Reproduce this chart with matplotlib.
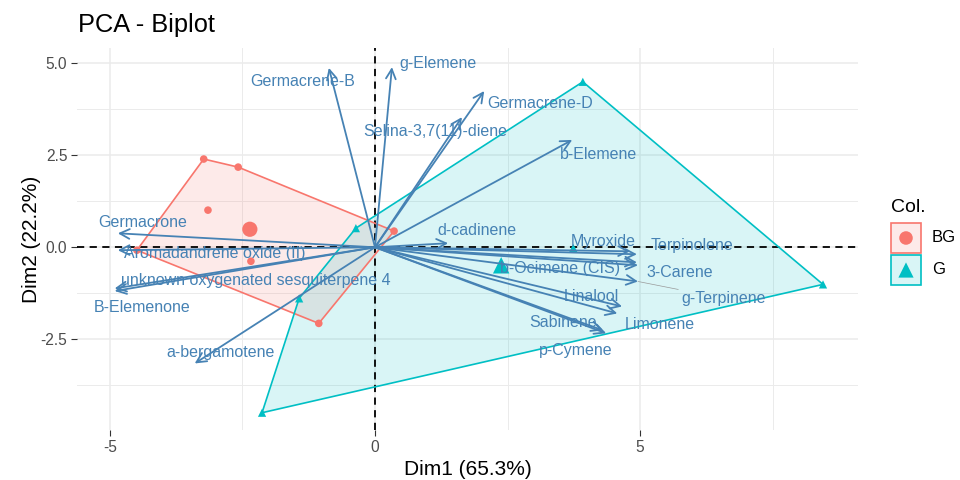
import numpy as np
import matplotlib
matplotlib.use("Agg")
import matplotlib.pyplot as plt
from matplotlib.patches import Rectangle

plt.rcParams['font.family'] = ['Liberation Sans', 'DejaVu Sans']
plt.rcParams['axes.unicode_minus'] = False

#-----------------------------------------------------#
# individuals (scores on Dim1 / Dim2)

bg_x = [-3.23, -2.58, -3.15, -2.34, 0.36, -1.06, -4.49]
bg_y = [2.40, 2.18, 1.01, -0.38, 0.44, -2.07, -0.08]
bg_mean = [-2.36, 0.49]

g_x = [3.92, 8.45, -2.13, -1.43, -0.36, 3.74]
g_y = [4.50, -1.01, -4.50, -1.39, 0.52, -0.02]
g_mean = [2.38, -0.49]

groups = ["BG", "G"]

# variables (arrow tips) and where their labels sit
var_names = ["Germacrene-B", "g-Elemene", "Germacrene-D", "Selina-3,7(11)-diene",
             "b-Elemene", "d-cadinene", "Myroxide", "Terpinolene", "b-Ocimene (CIS)",
             "3-Carene", "g-Terpinene", "Linalool", "Limonene", "Sabinene", "p-Cymene",
             "Germacrone", "Aromadandrene oxide (II)", "unknown oxygenated sesquiterpene 4",
             "B-Elemenone", "a-bergamotene"]
var_x = [-0.87, 0.32, 2.06, 1.64, 3.72, 1.38, 4.81, 4.94, 4.94, 4.96, 4.96,
         4.66, 4.57, 4.30, 4.36, -4.85, -4.85, -4.91, -4.91, -3.40]
var_y = [4.88, 4.90, 4.25, 3.54, 2.92, 0.11, -0.11, -0.19, -0.41, -0.49, -0.93,
         -1.61, -1.80, -2.26, -2.34, 0.38, -0.08, -1.12, -1.19, -3.16]
lab_x = [-1.36, 1.19, 3.11, 1.13, 4.21, 1.92, 4.30, 5.98, 3.49, 5.74, 6.57,
         4.09, 5.38, 3.55, 3.79, -4.38, -3.02, -2.25, -4.40, -2.92]
lab_y = [4.50, 4.99, 3.90, 3.16, 2.53, 0.46, 0.16, 0.05, -0.57, -0.68, -1.39,
         -1.34, -2.10, -2.04, -2.81, 0.68, -0.16, -0.90, -1.63, -2.86]
repelled = ["g-Terpinene"]

bg_col = "#F8766D"
g_col = "#00BFC4"
var_col = "#4682B4"

#-----------------------------------------------------#

def hull(xs, ys):
    pts = sorted(zip(xs, ys))
    def cross(o, a, b):
        return (a[0] - o[0]) * (b[1] - o[1]) - (a[1] - o[1]) * (b[0] - o[0])
    lower, upper = [], []
    for p in pts:
        while len(lower) >= 2 and cross(lower[-2], lower[-1], p) <= 0:
            lower.pop()
        lower.append(p)
    for p in reversed(pts):
        while len(upper) >= 2 and cross(upper[-2], upper[-1], p) <= 0:
            upper.pop()
        upper.append(p)
    h = lower[:-1] + upper[:-1]
    h.append(h[0])
    return [p[0] for p in h], [p[1] for p in h]

#-----------------------------------------------------#

fig = plt.figure(figsize=(9.6, 4.8), dpi=100)
ax = fig.add_axes([77 / 960, 50 / 480, 781 / 960, 382 / 480])

ax.axhline(0, color="black", ls=(0, (4, 3)), lw=1.3, zorder=2)
ax.axvline(0, color="black", ls=(0, (4, 3)), lw=1.3, zorder=2)

for xs, ys, col in [(bg_x, bg_y, bg_col), (g_x, g_y, g_col)]:
    hx, hy = hull(xs, ys)
    ax.fill(hx, hy, facecolor=col, alpha=0.15, edgecolor="none", zorder=1)
    ax.plot(hx, hy, color=col, lw=1.2, zorder=3)

ax.scatter(bg_x, bg_y, marker="o", s=30, color=bg_col, edgecolors="none", zorder=3)
ax.scatter([bg_mean[0]], [bg_mean[1]], marker="o", s=120, color=bg_col, edgecolors="none", zorder=3)
ax.scatter(g_x, g_y, marker="^", s=35, color=g_col, edgecolors="none", zorder=3)
ax.scatter([g_mean[0]], [g_mean[1]], marker="^", s=140, color=g_col, edgecolors="none", zorder=3)

for i in range(len(var_names)):
    ax.annotate("", xy=(var_x[i], var_y[i]), xytext=(0, 0),
                arrowprops=dict(arrowstyle="->,head_length=0.7,head_width=0.35",
                                color=var_col, lw=1.3, shrinkA=0, shrinkB=0),
                zorder=4)
for i in range(len(var_names)):
    if var_names[i] in repelled:
        ax.annotate(var_names[i], xy=(var_x[i], var_y[i]), xytext=(lab_x[i], lab_y[i]),
                    color=var_col, fontsize=11.5, ha="center", va="center",
                    arrowprops=dict(arrowstyle="-", color="#999999", lw=0.5,
                                    shrinkA=0, shrinkB=0),
                    zorder=5)
    else:
        ax.text(lab_x[i], lab_y[i], var_names[i], color=var_col, fontsize=11.5,
                ha="center", va="center", zorder=5)

ax.set_xlim(-5.62, 9.11)
ax.set_ylim(-4.97, 5.42)
ax.set_xticks([-5, 0, 5])
ax.set_xticks([-2.5, 2.5, 7.5], minor=True)
ax.set_yticks([-2.5, 0, 2.5, 5])
ax.set_yticklabels(["-2.5", "0.0", "2.5", "5.0"])
ax.set_yticks([-3.75, -1.25, 1.25, 3.75], minor=True)
ax.grid(which="major", color="#EBEBEB", lw=1.1, zorder=0)
ax.grid(which="minor", color="#EBEBEB", lw=0.7, zorder=0)
ax.set_axisbelow(True)
for s in ax.spines.values():
    s.set_visible(False)
ax.tick_params(which="major", length=4, color="#333333", labelcolor="#4D4D4D",
               labelsize=11.2, pad=3)
ax.tick_params(which="minor", length=0)

ax.set_xlabel("Dim1 (65.3%)", fontsize=15, labelpad=4)
ax.set_ylabel("Dim2 (22.2%)", fontsize=15, labelpad=0)
fig.text(78 / 960, 1 - 25 / 480, "PCA - Biplot", fontsize=18.3, ha="left", va="center")

#-----------------------------------------------------#
# legend drawn by hand: boxed keys like ggplot

lax = fig.add_axes([890 / 960, 1 - 286 / 480, 32 / 960, 64 / 480])
lax.set_xlim(0, 1)
lax.set_ylim(0, 2)
lax.axis("off")
key_cols = [bg_col, g_col]
key_marks = ["o", "^"]
key_sizes = [95, 120]
for k in range(len(groups)):
    yk = 1 - k
    lax.add_patch(Rectangle((0.03, yk + 0.03), 0.94, 0.94, facecolor=key_cols[k],
                            alpha=0.15, edgecolor="none"))
    lax.add_patch(Rectangle((0.03, yk + 0.03), 0.94, 0.94, facecolor="none",
                            edgecolor=key_cols[k], lw=1.2))
    lax.scatter([0.5], [yk + 0.5], marker=key_marks[k], s=key_sizes[k],
                color=key_cols[k], edgecolors="none")
    fig.text(932 / 960, 1 - (238 + 32 * k) / 480, groups[k], fontsize=12,
             ha="left", va="center")
fig.text(891 / 960, 1 - 207 / 480, "Col.", fontsize=14, ha="left", va="center")

fig.savefig("out.png", dpi=100)
